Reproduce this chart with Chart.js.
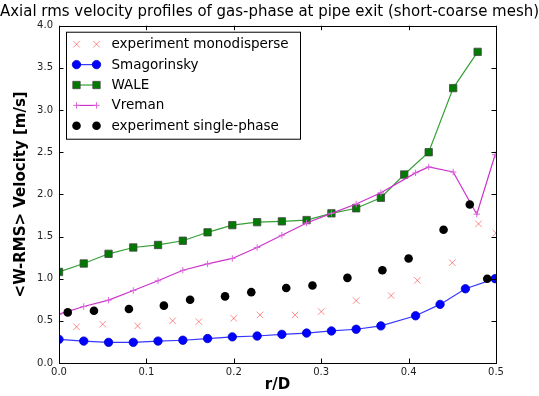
<!DOCTYPE html>
<html>
<head>
<meta charset="utf-8">
<script src="https://cdn.jsdelivr.net/npm/chart.js@4"></script>
<style>
html,body{margin:0;padding:0;background:#fff;}
#wrap{width:539px;height:396px;}
</style>
</head>
<body>
<div id="wrap"><canvas id="c" width="539" height="396"></canvas></div>
<script>
// ---- data ----
const monoX = [0.02,0.05,0.09,0.13,0.16,0.20,0.23,0.27,0.30,0.34,0.38,0.41,0.45,0.48,0.50];
const monoY = [0.43,0.46,0.44,0.50,0.49,0.53,0.57,0.57,0.61,0.74,0.80,0.98,1.19,1.65,1.54];

const singleX = [0.01,0.04,0.08,0.12,0.15,0.19,0.22,0.26,0.29,0.33,0.37,0.40,0.44,0.47,0.49];
const singleY = [0.60,0.62,0.64,0.68,0.75,0.79,0.84,0.89,0.92,1.01,1.10,1.24,1.58,1.88,1.00];

const smagX = [0,0.0283,0.0567,0.085,0.1133,0.1417,0.17,0.1983,0.2267,0.255,0.2833,0.3117,0.34,0.3683,0.408,0.436,0.465,0.499];
const smagY = [0.28,0.26,0.245,0.245,0.26,0.27,0.29,0.31,0.32,0.34,0.355,0.38,0.40,0.44,0.56,0.695,0.88,1.0];

const waleX = [0,0.0283,0.0567,0.085,0.1133,0.1417,0.17,0.1983,0.2267,0.255,0.2833,0.3117,0.34,0.3683,0.395,0.423,0.451,0.479];
const waleY = [1.08,1.18,1.295,1.37,1.40,1.45,1.55,1.635,1.67,1.68,1.695,1.775,1.835,1.96,2.235,2.50,3.26,3.69];

const vremX = [0,0.0283,0.0567,0.085,0.1133,0.1417,0.17,0.1983,0.2267,0.255,0.2833,0.3117,0.34,0.3683,0.408,0.423,0.451,0.478,0.499];
const vremY = [0.58,0.67,0.745,0.86,0.975,1.10,1.175,1.24,1.37,1.515,1.66,1.775,1.885,2.02,2.255,2.325,2.265,1.765,2.47];

const seriesNames = ['experiment monodisperse','Smagorinsky','WALE','Vreman','experiment single-phase'];
const xTicks = [0,0.1,0.2,0.3,0.4,0.5];
const yTicks = [0,0.5,1.0,1.5,2.0,2.5,3.0,3.5,4.0];

const pts = (xs, ys) => xs.map((x, i) => ({x: x, y: ys[i]}));
const FONT = "'DejaVu Sans', sans-serif";

const datasets = [
  {label: seriesNames[0], data: pts(monoX, monoY), showLine: false,
   pointStyle: 'crossRot', pointRadius: 4.6, pointBorderWidth: 1,
   borderColor: 'rgba(255,0,0,0.45)', backgroundColor: 'rgba(255,0,0,0.45)', clip: 0, order: 5},
  {label: seriesNames[1], data: pts(smagX, smagY), showLine: true, borderWidth: 1.2,
   borderColor: 'rgba(20,20,255,0.85)', backgroundColor: '#0000ff',
   pointStyle: 'circle', pointRadius: 4.2, pointBorderWidth: 0.8, pointBorderColor: '#0000cc',
   pointBackgroundColor: '#0000ff', clip: 0, order: 4},
  {label: seriesNames[2], data: pts(waleX, waleY), showLine: true, borderWidth: 1.2,
   borderColor: 'rgba(30,150,30,0.9)', backgroundColor: '#007700',
   pointStyle: 'rect', pointRadius: 5.2, pointBorderWidth: 0.8, pointBorderColor: '#444',
   pointBackgroundColor: '#007a00', clip: 0, order: 3},
  {label: seriesNames[3], data: pts(vremX, vremY), showLine: true, borderWidth: 1.2,
   borderColor: '#cc33cc', backgroundColor: '#cc33cc',
   pointStyle: 'cross', pointRadius: 3.2, pointBorderWidth: 1, pointBorderColor: '#dd66dd',
   clip: 0, order: 2},
  {label: seriesNames[4], data: pts(singleX, singleY), showLine: false,
   pointStyle: 'circle', pointRadius: 4.3, pointBorderWidth: 0,
   borderColor: '#000', backgroundColor: '#000', pointBackgroundColor: '#000', clip: 0, order: 1}
];

function drawMarker(ctx, style, x, y, r, fill, stroke, bw) {
  ctx.save();
  ctx.fillStyle = fill; ctx.strokeStyle = stroke; ctx.lineWidth = bw || 1;
  ctx.beginPath();
  if (style === 'circle') {
    ctx.arc(x, y, r, 0, Math.PI * 2); ctx.fill(); if (bw) ctx.stroke();
  } else if (style === 'rect') {
    const s = r * Math.SQRT1_2;
    ctx.rect(x - s, y - s, 2 * s, 2 * s); ctx.fill(); if (bw) ctx.stroke();
  } else if (style === 'crossRot') {
    const s = r * Math.SQRT1_2;
    ctx.moveTo(x - s, y - s); ctx.lineTo(x + s, y + s);
    ctx.moveTo(x - s, y + s); ctx.lineTo(x + s, y - s); ctx.stroke();
  } else if (style === 'cross') {
    ctx.moveTo(x - r, y); ctx.lineTo(x + r, y);
    ctx.moveTo(x, y - r); ctx.lineTo(x, y + r); ctx.stroke();
  }
  ctx.restore();
}

const framePlugin = {
  id: 'frame',
  afterDatasetsDraw(chart) {
    const {ctx, chartArea: a, scales: {x, y}} = chart;
    ctx.save();
    ctx.strokeStyle = '#000';
    ctx.lineWidth = 1;
    const L = 4.5;
    ctx.beginPath();
    x.ticks.forEach(t => {
      const p = Math.round(x.getPixelForValue(t.value)) + 0.5;
      ctx.moveTo(p, a.bottom); ctx.lineTo(p, a.bottom - L);
      ctx.moveTo(p, a.top); ctx.lineTo(p, a.top + L);
    });
    y.ticks.forEach(t => {
      const p = Math.round(y.getPixelForValue(t.value)) + 0.5;
      ctx.moveTo(a.left, p); ctx.lineTo(a.left + L, p);
      ctx.moveTo(a.right, p); ctx.lineTo(a.right - L, p);
    });
    ctx.stroke();
    ctx.strokeRect(Math.round(a.left) + 0.5, Math.round(a.top) + 0.5,
                   Math.round(a.right - a.left), Math.round(a.bottom - a.top));
    ctx.restore();
  }
};

const legendPlugin = {
  id: 'mplLegend',
  afterDraw(chart) {
    const {ctx, chartArea: a} = chart;
    const bx = a.left + 7.5, by = a.top + 6.5, bw = 234, bh = 107;
    ctx.save();
    ctx.fillStyle = '#fff';
    ctx.fillRect(bx, by, bw, bh);
    ctx.strokeStyle = '#000'; ctx.lineWidth = 1;
    ctx.strokeRect(bx, by, bw, bh);
    ctx.font = '13.5px ' + FONT;
    ctx.textBaseline = 'middle';
    ctx.textAlign = 'left';
    const rowY0 = by + 12, dy = 20.4;
    const m1 = bx + 10, m2 = bx + 30, tx = bx + 45;
    chart.data.datasets.forEach((ds, i) => {
      const yy = rowY0 + i * dy;
      if (ds.showLine) {
        ctx.beginPath();
        ctx.strokeStyle = ds.borderColor; ctx.lineWidth = ds.borderWidth;
        ctx.moveTo(m1, yy); ctx.lineTo(m2, yy); ctx.stroke();
      }
      const fill = ds.pointBackgroundColor || ds.backgroundColor;
      const stroke = ds.pointBorderColor || ds.borderColor;
      [m1, m2].forEach(mx => drawMarker(ctx, ds.pointStyle, mx, yy, ds.pointRadius, fill, stroke, ds.pointBorderWidth));
      ctx.fillStyle = '#000';
      ctx.fillText(ds.label, tx, yy + 0.5);
    });
    ctx.restore();
  }
};

new Chart(document.getElementById('c'), {
  type: 'scatter',
  data: {datasets: datasets},
  options: {
    responsive: false,
    animation: false,
    devicePixelRatio: 1,
    layout: {padding: {left: 0, right: 0, top: 0, bottom: 0}},
    plugins: {
      legend: {display: false},
      tooltip: {enabled: false},
      title: {
        display: true,
        text: 'Axial rms velocity profiles of gas-phase at pipe exit (short-coarse mesh)',
        color: '#000',
        font: {family: FONT, size: 15.6, weight: 'normal', lineHeight: 1.2},
        padding: {top: 3, bottom: 4}
      }
    },
    scales: {
      x: {
        type: 'linear', min: 0, max: 0.5,
        afterBuildTicks: s => { s.ticks = xTicks.map(v => ({value: v})); },
        afterFit: s => { s.height = 33; },
        grid: {display: false, drawTicks: false},
        border: {display: false},
        ticks: {color: '#222', font: {family: FONT, size: 10}, padding: 3,
                maxRotation: 0, autoSkip: false, callback: v => v.toFixed(1)},
        title: {display: true, text: 'r/D', color: '#000',
                font: {family: FONT, size: 15, weight: 'bold'}, padding: {top: 0, bottom: 2}}
      },
      y: {
        type: 'linear', min: 0, max: 4,
        afterBuildTicks: s => { s.ticks = yTicks.map(v => ({value: v})); },
        afterFit: s => { s.width = 59; },
        grid: {display: false, drawTicks: false},
        border: {display: false},
        ticks: {color: '#222', font: {family: FONT, size: 10}, padding: 6,
                autoSkip: false, callback: v => v.toFixed(1)},
        title: {display: true, text: '<W-RMS> Velocity [m/s]', color: '#000',
                font: {family: FONT, size: 15, weight: 'bold'}, padding: {top: 12, bottom: 0}}
      },
      yRight: {
        type: 'linear', position: 'right', min: 0, max: 4,
        afterFit: s => { s.width = 43; },
        grid: {display: false, drawTicks: false},
        border: {display: false},
        ticks: {display: false}
      }
    }
  },
  plugins: [framePlugin, legendPlugin]
});
</script>
</body>
</html>
